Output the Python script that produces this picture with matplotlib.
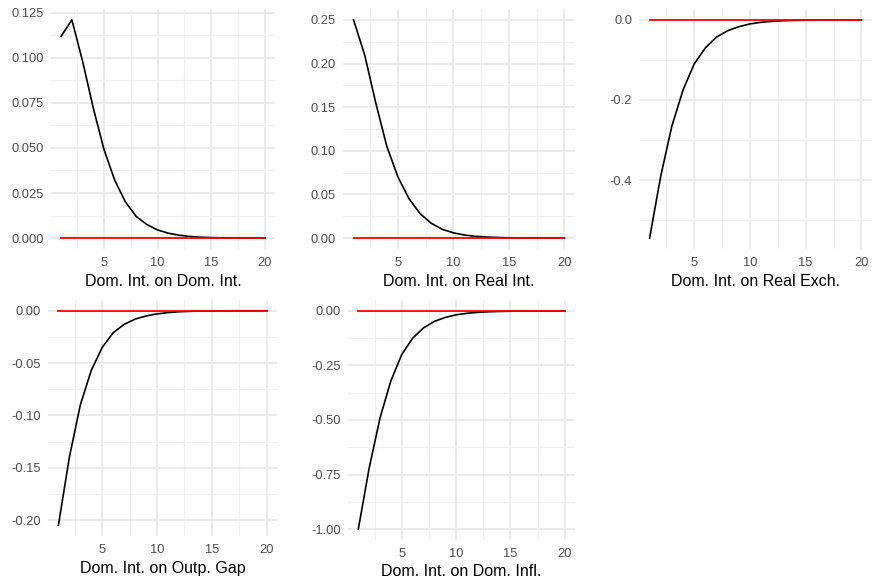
import matplotlib
matplotlib.use('Agg')
import matplotlib.pyplot as plt
from matplotlib.ticker import MultipleLocator, FormatStrFormatter

periods = list(range(1, 21))

dom_int = [0.112, 0.121, 0.098, 0.072, 0.049, 0.032, 0.020, 0.012, 0.0075, 0.0045,
           0.0027, 0.0016, 0.0009, 0.0005, 0.0003, 0.00015, 0.0001, 0.00005, 0.00003, 0.00002]
real_int = [0.250, 0.210, 0.155, 0.105, 0.070, 0.045, 0.028, 0.017, 0.010, 0.006,
            0.0035, 0.002, 0.0012, 0.0007, 0.0004, 0.00025, 0.00015, 0.0001, 0.00005, 0.00003]
real_exch = [-0.545, -0.390, -0.265, -0.175, -0.110, -0.070, -0.043, -0.027, -0.017, -0.010,
             -0.006, -0.0035, -0.002, -0.0012, -0.0007, -0.0004, -0.00025, -0.00015, -0.0001, -0.00005]
outp_gap = [-0.205, -0.140, -0.090, -0.057, -0.035, -0.021, -0.013, -0.008, -0.005, -0.003,
            -0.0018, -0.001, -0.0006, -0.00035, -0.0002, -0.0001, -0.00006, -0.00004, -0.00002, -0.00001]
dom_infl = [-1.00, -0.72, -0.49, -0.32, -0.20, -0.125, -0.078, -0.048, -0.030, -0.018,
            -0.011, -0.0065, -0.004, -0.0024, -0.0014, -0.0008, -0.0005, -0.0003, -0.0002, -0.0001]

titles = ['Dom. Int. on Dom. Int.', 'Dom. Int. on Real Int.', 'Dom. Int. on Real Exch.',
          'Dom. Int. on Outp. Gap', 'Dom. Int. on Dom. Infl.']
series = [dom_int, real_int, real_exch, outp_gap, dom_infl]
ysteps = [0.025, 0.05, 0.2, 0.05, 0.25]
yfmt = ['%.3f', '%.2f', '%.1f', '%.2f', '%.2f']

# panel boxes in pixels: left, right, top, bottom
W, H = 872, 583
boxes = [(51, 275, 9, 249), (343, 575, 9, 249), (639, 872, 9, 249),
         (48, 277, 300, 536), (348, 575, 300, 540)]

plt.rcParams['font.family'] = ['Liberation Sans', 'DejaVu Sans']
fig = plt.figure(figsize=(W / 100, H / 100), dpi=100)

for i in range(5):
    l, r, t, b = boxes[i]
    ax = fig.add_axes([l / W, 1 - b / H, (r - l) / W, (b - t) / H])
    y = series[i]
    ax.plot(periods, y, color='black', linewidth=1.2, zorder=3)
    ax.plot(periods, [0] * len(periods), color='red', linewidth=1.3, zorder=4)
    lo, hi = min(y + [0]), max(y + [0])
    pad = (hi - lo) * 0.05
    ax.set_ylim(lo - pad, hi + pad)
    ax.set_xlim(1 - 0.95, 20 + 0.95)
    ax.xaxis.set_major_locator(MultipleLocator(5))
    ax.xaxis.set_minor_locator(MultipleLocator(2.5))
    ax.yaxis.set_major_locator(MultipleLocator(ysteps[i]))
    ax.yaxis.set_minor_locator(MultipleLocator(ysteps[i] / 2))
    ax.yaxis.set_major_formatter(FormatStrFormatter(yfmt[i]))
    ax.set_xticks([5, 10, 15, 20])
    ax.grid(which='major', color='#EBEBEB', linewidth=1.4, zorder=0)
    ax.grid(which='minor', color='#F0F0F0', linewidth=0.9, zorder=0)
    ax.set_axisbelow(True)
    for s in ax.spines.values():
        s.set_visible(False)
    ax.tick_params(which='both', length=0, labelsize=9.3, labelcolor='#4D4D4D')
    ax.tick_params(axis='x', pad=6)
    ax.tick_params(axis='y', pad=5)
    ax.set_xlabel(titles[i], fontsize=11.5, labelpad=3)

fig.savefig('out.png', dpi=100)
